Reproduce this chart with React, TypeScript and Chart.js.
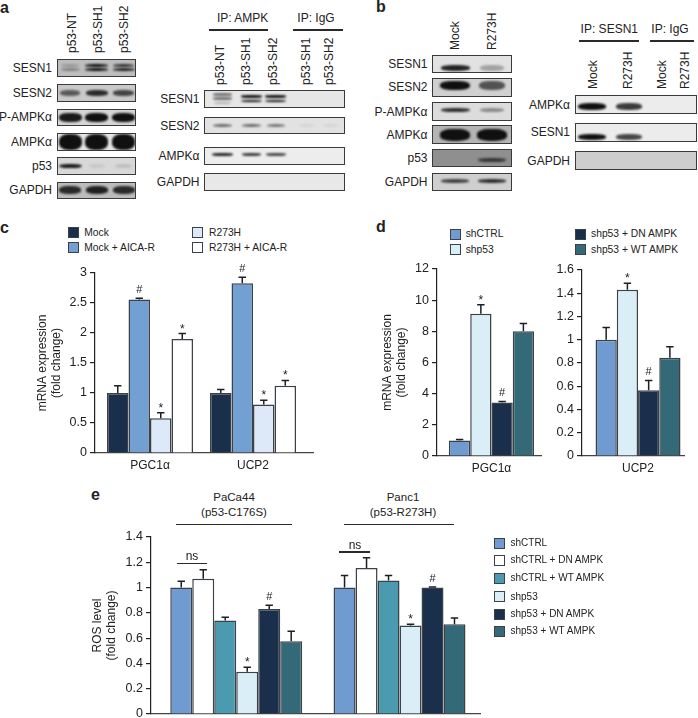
import React, { useEffect, useRef } from "react";
import { Chart, registerables } from "chart.js";

Chart.register(...registerables);

const FONT = '"Liberation Sans", Arial, sans-serif';
const INK = "#222";

// ---------- data: bar charts ----------
const NAVY = "#1a2f4c", BLUE = "#72a0d3", PALE_C = "#dde9f8", WHITE = "#ffffff";
const SKY = "#d9eef6", TEAL = "#346a78", MIDTEAL = "#4a9bb0", BLUE_D = "#6f9bd0";

const cCategories = ["PGC1α", "UCP2"];
const cSeriesNames = ["Mock", "Mock + AICA-R", "R273H", "R273H + AICA-R"];
const cMock = [1.0, 1.0];
const cMockTop = [1.12, 1.06];
const cMockAica = [2.56, 2.83];
const cMockAicaTop = [2.58, 2.93];
const cR273 = [0.58, 0.81];
const cR273Top = [0.67, 0.88];
const cR273Aica = [1.9, 1.12];
const cR273AicaTop = [1.99, 1.21];
const cMarks = [["", ""], ["#", "#"], ["*", "*"], ["*", "*"]];

const dSeriesNames = ["shCTRL", "shp53", "shp53 + DN AMPK", "shp53 + WT AMPK"];
const dPgc = [1.0, 9.13, 3.43, 8.0];
const dPgcTop = [1.06, 9.7, 3.5, 8.5];
const dUcp = [1.0, 1.43, 0.565, 0.845];
const dUcpTop = [1.105, 1.485, 0.65, 0.94];
const dMarks = [[""], ["*"], ["#"], [""]];

const eSeriesNames = ["shCTRL", "shCTRL + DN AMPK", "shCTRL + WT AMPK", "shp53", "shp53 + DN AMPK", "shp53 + WT AMPK"];
const eCategories = ["PaCa44", "Panc1"];
const eShCtrl = [1.0, 1.0];
const eShCtrlTop = [1.05, 1.095];
const eShCtrlDn = [1.07, 1.155];
const eShCtrlDnTop = [1.14, 1.235];
const eShCtrlWt = [0.74, 1.055];
const eShCtrlWtTop = [0.765, 1.095];
const eShp = [0.335, 0.7];
const eShpTop = [0.37, 0.71];
const eShpDn = [0.83, 1.0];
const eShpDnTop = [0.86, 1.005];
const eShpWt = [0.575, 0.71];
const eShpWtTop = [0.655, 0.76];
const eMarks = [["", ""], ["", ""], ["", ""], ["*", "*"], ["#", "#"], ["", ""]];

// ---------- data: blot band intensities per lane ----------
const aLeftNames = ["SESN1", "SESN2", "P-AMPKα", "AMPKα", "p53", "GAPDH"];
const aLeftBands = [
  [[0.22, 0.35], [1, 1], [0.8, 0.9]],
  [[0.6], [0.85], [0.72]],
  [[0.95], [1], [1]],
  [[1], [1], [1]],
  [[0.95], [0.08], [0.12]],
  [[0.85], [0.9], [0.85]],
];
const aRightNames = ["SESN1", "SESN2", "AMPKα", "GAPDH"];
const aRightBands = [
  [[0.55, 0.55, 0.25], [1, 1], [1, 1], [], []],
  [[0.55], [0.55], [0.5], [0.06], [0.06]],
  [[0.9], [0.8], [0.75], [], []],
  [[], [], [], [], []],
];
const bLeftNames = ["SESN1", "SESN2", "P-AMPKα", "AMPKα", "p53", "GAPDH"];
const bLeftBands = [
  [[0.9], [0.3]],
  [[1], [0.65]],
  [[0.85], [0.4]],
  [[1], [1]],
  [[], [0.7]],
  [[0.75], [0.85]],
];
const bRightNames = ["AMPKα", "SESN1", "GAPDH"];
const bRightBands = [
  [[1], [0.8], [], []],
  [[1], [0.75], [], []],
  [[], [], [], []],
];
const aLanes = ["p53-NT", "p53-SH1", "p53-SH2"];
const aIgLanes = ["p53-SH1", "p53-SH2"];
const bLanes = ["Mock", "R273H"];

// ---------- bar chart helpers ----------
const errorPlugin = {
  id: "errorMarks",
  afterDatasetsDraw(chart: any) {
    const { ctx, scales } = chart;
    chart.data.datasets.forEach((ds: any, i: number) => {
      chart.getDatasetMeta(i).data.forEach((el: any, j: number) => {
        const top = scales.y.getPixelForValue(ds.tops[j]);
        ctx.save();
        ctx.strokeStyle = "#1c1f24";
        ctx.lineWidth = 1.5;
        ctx.beginPath();
        ctx.moveTo(el.x, el.y);
        ctx.lineTo(el.x, top);
        ctx.moveTo(el.x - 3.7, top);
        ctx.lineTo(el.x + 3.7, top);
        ctx.stroke();
        const m = ds.marks[j];
        if (m) {
          ctx.fillStyle = INK;
          ctx.textAlign = "center";
          ctx.textBaseline = "alphabetic";
          ctx.font = `${m === "#" ? 11 : 12}px ${FONT}`;
          ctx.fillText(m, el.x, top - (m === "#" ? 5 : 1));
        }
        ctx.restore();
      });
    });
  },
};

type Spec = {
  left: number; top: number; width: number; height: number;
  axisW: number; axisH: number;
  yMax: number; yStep: number;
  xMin: number; xMax: number; catPct: number;
  labels: string[];
  title?: string[];
  series: { name: string; values: number[]; tops: number[]; marks: string[]; color: string }[];
};

function BarPanel({ spec }: { spec: Spec }) {
  const ref = useRef<HTMLCanvasElement>(null);
  useEffect(() => {
    const s = spec;
    const chart = new Chart(ref.current!, {
      type: "bar",
      data: {
        datasets: s.series.map((d) => ({
          label: d.name,
          data: d.values.map((v, i) => ({ x: i + 1, y: v })),
          tops: d.tops,
          marks: d.marks,
          backgroundColor: d.color,
          borderColor: "#3b4147",
          borderWidth: 1.5,
          barPercentage: 1,
          categoryPercentage: s.catPct,
        })) as any,
      },
      options: {
        animation: false,
        responsive: false,
        devicePixelRatio: 1,
        layout: { padding: { top: 20, left: 0, right: 0, bottom: 0 } },
        plugins: { legend: { display: false }, tooltip: { enabled: false } },
        scales: {
          x: {
            type: "linear",
            offset: false,
            min: s.xMin,
            max: s.xMax,
            grid: { display: false, drawTicks: false, tickLength: 0 },
            border: { color: "#444", width: 1.2 },
            afterBuildTicks: (a: any) => { a.ticks = s.labels.map((_, i) => ({ value: i + 1 })); },
            afterFit: (a: any) => { a.height = s.axisH; },
            ticks: {
              display: s.labels.some((l) => l !== ""),
              autoSkip: false,
              maxRotation: 0,
              padding: 5,
              color: INK,
              font: { family: FONT, size: 12 },
              callback: (v: any) => s.labels[Number(v) - 1] ?? "",
            },
          },
          y: {
            min: 0,
            max: s.yMax,
            afterFit: (a: any) => { a.width = s.axisW; },
            grid: { drawOnChartArea: false, drawTicks: true, tickLength: 5, color: "#222", lineWidth: 1.2 },
            border: { color: "#222", width: 1.2 },
            title: s.title
              ? { display: true, text: s.title, color: INK, padding: 0, font: { family: FONT, size: 12, lineHeight: 1.2 } }
              : { display: false },
            ticks: {
              stepSize: s.yStep,
              padding: 3,
              color: INK,
              font: { family: FONT, size: 12.5 },
              callback: (v: any) => String(+Number(v).toFixed(1)),
            },
          },
        },
      } as any,
      plugins: [errorPlugin as any],
    });
    return () => chart.destroy();
  }, [spec]);
  return (
    <canvas
      ref={ref}
      width={spec.width}
      height={spec.height}
      style={{ position: "absolute", left: spec.left, top: spec.top, width: spec.width, height: spec.height }}
    />
  );
}

const zip = (names: string[], vals: number[][], tops: number[][], marks: string[][], colors: string[]) =>
  names.map((name, i) => ({ name, values: vals[i], tops: tops[i], marks: marks[i], color: colors[i] }));
const cColors = [NAVY, BLUE, PALE_C, WHITE];
const dColors = [BLUE_D, SKY, NAVY, TEAL];
const eColors = [BLUE_D, WHITE, MIDTEAL, SKY, NAVY, TEAL];

const specC: Spec = {
  left: 35, top: 253, width: 279, height: 225, axisW: 60, axisH: 25, yMax: 3, yStep: 0.5,
  xMin: 0.466, xMax: 2.592, catPct: 0.835, labels: cCategories, title: ["mRNA expression", "(fold change)"],
  series: zip(cSeriesNames, [cMock, cMockAica, cR273, cR273Aica], [cMockTop, cMockAicaTop, cR273Top, cR273AicaTop], cMarks, cColors),
};
const pick = (a: number[], i: number) => [a[i]];
const specD1: Spec = {
  left: 380, top: 249, width: 162, height: 232, axisW: 57, axisH: 25, yMax: 12, yStep: 2,
  xMin: 0.481, xMax: 1.481, catPct: 0.81, labels: ["PGC1α"], title: ["mRNA expression", "(fold change)"],
  series: dSeriesNames.map((name, i) => ({ name, values: pick(dPgc, i), tops: pick(dPgcTop, i), marks: dMarks[i], color: dColors[i] })),
};
const specD2: Spec = {
  left: 542, top: 250, width: 143, height: 231, axisW: 40, axisH: 25, yMax: 1.6, yStep: 0.2,
  xMin: 0.456, xMax: 1.456, catPct: 0.825, labels: ["UCP2"],
  series: dSeriesNames.map((name, i) => ({ name, values: pick(dUcp, i), tops: pick(dUcpTop, i), marks: dMarks[i], color: dColors[i] })),
};
const specE: Spec = {
  left: 90, top: 517, width: 391, height: 209, axisW: 61, axisH: 12, yMax: 1.4, yStep: 0.2,
  xMin: 0.478, xMax: 2.499, catPct: 0.808, labels: ["", ""], title: ["ROS level", "(fold change)"],
  series: zip(eSeriesNames, [eShCtrl, eShCtrlDn, eShCtrlWt, eShp, eShpDn, eShpWt], [eShCtrlTop, eShCtrlDnTop, eShCtrlWtTop, eShpTop, eShpDnTop, eShpWtTop], eMarks, eColors),
};

// ---------- page-level helpers ----------
function T({ x, y, s, align = "left", size = 12, bold = false }: any) {
  const tx = align === "left" ? "0" : align === "center" ? "-50%" : "-100%";
  return (
    <div style={{ position: "absolute", left: x, top: y, transform: `translate(${tx},-50%)`, fontFamily: FONT, fontSize: size, fontWeight: bold ? 700 : 400, color: INK, whiteSpace: "nowrap", lineHeight: 1 }}>
      {s}
    </div>
  );
}
function V({ x, y, s }: any) {
  return (
    <div style={{ position: "absolute", left: x - 6, top: y, transform: "translateY(-100%) rotate(180deg)", writingMode: "vertical-rl", fontFamily: FONT, fontSize: 12, lineHeight: "12px", color: INK, whiteSpace: "nowrap" }}>
      {s}
    </div>
  );
}
function Rule({ x1, x2, y }: any) {
  return <div style={{ position: "absolute", left: x1, top: y - 0.75, width: x2 - x1, height: 1.5, background: "#2a2a2a" }} />;
}
function Blot({ x, y, w, h, bg, lanes, laneW, bands, thick, nudge }: any) {
  return (
    <div style={{ position: "absolute", left: x, top: y, width: w, height: h, boxSizing: "border-box", border: "1.5px solid #3a3a3a", background: bg, overflow: "hidden" }}>
      {bands.map((stack: number[], li: number) =>
        stack.map((v: number, bi: number) => {
          const bh = (thick * h) / Math.min(stack.length, 2);
          const gap = stack.length > 1 ? h * 0.24 : 0;
          const cy = h / 2 + (bi - (stack.length - 1) / 2) * gap;
          const width = laneW * (0.7 + 0.3 * v);
          return (
            <div key={`${li}-${bi}`} style={{ position: "absolute", left: lanes[li] - x - width / 2, top: cy - bh / 2 - 1 + nudge, width, height: bh, background: "#101010", opacity: v, borderRadius: "40%", filter: "blur(1px)" }} />
          );
        })
      )}
    </div>
  );
}
function Swatch({ x, y, color, size = 11 }: any) {
  return <div style={{ position: "absolute", left: x, top: y - size / 2, width: size, height: size, boxSizing: "border-box", border: "1.5px solid #3b4147", background: color }} />;
}

// blot layout: top, height, background, band thickness, band nudge
const aLeftRows = [[58.7, 18, "#bdbdbd", 0.36, 0], [84, 17.5, "#c9c9c9", 0.32, 0], [108.7, 17.5, "#d6d6d6", 0.5, 0], [133, 18, "#e6e6e6", 0.9, 0], [157.3, 17.5, "#d8d8d8", 0.28, 0], [181.7, 17, "#bcbcbc", 0.45, 0]];
const aRightRows = [[90, 17.5, "#e6e6e6", 0.3, 0], [117.3, 17, "#e2e2e2", 0.2, 0], [146.7, 18, "#ededed", 0.16, -1], [172.7, 18, "#e8e8e8", 0.1, 0]];
const bLeftRows = [[55, 18, "#e2e2e2", 0.3, 4], [78, 18.5, "#d0d0d0", 0.5, -1.5], [102.3, 18.5, "#dcdcdc", 0.24, -1.5], [125.3, 18.5, "#b4b4b4", 0.65, 0], [149, 18, "#8f8f8f", 0.24, 2], [172.7, 18, "#cfcfcf", 0.22, -0.5]];
const bRightRows = [[95, 19, "#ececec", 0.36, 2], [122.7, 19, "#ececec", 0.32, 4.5], [151, 19, "#cdcdcd", 0.1, 0]];

function BlotGroup({ names, bands, rows, x, w, lanes, laneW, labelX }: any) {
  return (
    <>
      {names.map((n: string, i: number) => (
        <React.Fragment key={n + i}>
          <T x={labelX} y={rows[i][0] + rows[i][1] / 2} s={n} align="right" size={12} />
          <Blot x={x} y={rows[i][0]} w={w} h={rows[i][1]} bg={rows[i][2]} thick={rows[i][3]} nudge={rows[i][4]} lanes={lanes} laneW={laneW} bands={bands[i]} />
        </React.Fragment>
      ))}
    </>
  );
}

export default function App() {
  return (
    <div style={{ position: "fixed", left: 0, top: 0, width: 698, height: 718, overflow: "hidden", background: "#fff" }}>
      <T x={0} y={8} s="a" size={16} bold />
      <T x={376} y={7} s="b" size={16} bold />
      <T x={0} y={228} s="c" size={16} bold />
      <T x={376} y={227} s="d" size={16} bold />
      <T x={91} y={495} s="e" size={16} bold />

      {/* a */}
      <BlotGroup names={aLeftNames} bands={aLeftBands} rows={aLeftRows} x={56.7} w={79} lanes={[69.3, 96, 122.7]} laneW={23} labelX={52} />
      {aLanes.map((l, i) => <V key={l} x={[71.7, 97.7, 124][i]} y={53} s={l} />)}
      <T x={242.7} y={18} s="IP: AMPK" align="center" size={12} />
      <Rule x1={209} x2={268} y={30} />
      <T x={316} y={18} s="IP: IgG" align="center" size={12} />
      <Rule x1={292.7} x2={343} y={30} />
      {aLanes.map((l, i) => <V key={l} x={[220, 246, 273.3][i]} y={85} s={l} />)}
      {aIgLanes.map((l, i) => <V key={l} x={[306, 329.3][i]} y={85} s={l} />)}
      <BlotGroup names={aRightNames} bands={aRightBands} rows={aRightRows} x={204.3} w={141} lanes={[221.5, 250.5, 275, 306, 330]} laneW={21} labelX={199.5} />

      {/* b */}
      <BlotGroup names={bLeftNames} bands={bLeftBands} rows={bLeftRows} x={432.3} w={80} lanes={[454.3, 491]} laneW={30} labelX={427.5} />
      {bLanes.map((l, i) => <V key={l} x={[455, 491.7][i]} y={50} s={l} />)}
      <T x={609.3} y={29.3} s="IP: SESN1" align="center" size={12} />
      <Rule x1={579} x2={639} y={41} />
      <T x={670} y={29.3} s="IP: IgG" align="center" size={12} />
      <Rule x1={650} x2={694} y={41} />
      {bLanes.map((l, i) => <V key={l} x={[593, 628][i]} y={89} s={l} />)}
      {bLanes.map((l, i) => <V key={l + "g"} x={[661.7, 685][i]} y={89} s={l} />)}
      <BlotGroup names={bRightNames} bands={bRightBands} rows={bRightRows} x={575} w={121.7} lanes={[591, 628, 661, 685]} laneW={28} labelX={570} />

      {/* c */}
      {cSeriesNames.map((n, i) => (
        <React.Fragment key={n}>
          <Swatch x={i < 2 ? 67.5 : 191.7} y={i % 2 === 0 ? 232 : 247.5} color={cColors[i]} />
          <T x={i < 2 ? 84.3 : 209} y={i % 2 === 0 ? 232.5 : 248} s={n} size={10.3} />
        </React.Fragment>
      ))}
      <BarPanel spec={specC} />

      {/* d */}
      {dSeriesNames.map((n, i) => (
        <React.Fragment key={n}>
          <Swatch x={i < 2 ? 449.7 : 575} y={i % 2 === 0 ? 234 : 249.7} color={dColors[i]} />
          <T x={i < 2 ? 465.7 : 591} y={i % 2 === 0 ? 234 : 250} s={n} size={10.3} />
        </React.Fragment>
      ))}
      <BarPanel spec={specD1} />
      <BarPanel spec={specD2} />

      {/* e */}
      <T x={234} y={498} s={eCategories[0]} align="center" size={11.5} />
      <T x={234} y={513} s="(p53-C176S)" align="center" size={11.5} />
      <Rule x1={176} x2={292} y={524.7} />
      <T x={403} y={498} s={eCategories[1]} align="center" size={11.5} />
      <T x={403} y={513} s="(p53-R273H)" align="center" size={11.5} />
      <Rule x1={343.6} x2={454} y={524.7} />
      <BarPanel spec={specE} />
      <T x={192} y={556} s="ns" align="center" size={12} />
      <Rule x1={177} x2={207} y={563.5} />
      <T x={355} y={545} s="ns" align="center" size={12} />
      <Rule x1={339} x2={370} y={552} />
      {eSeriesNames.map((n, i) => (
        <React.Fragment key={n}>
          <Swatch x={494.4} y={[543, 560.3, 578.3, 596.7, 614, 631.3][i]} color={eColors[i]} />
          <T x={510.5} y={[543, 560.3, 578.3, 596.7, 614, 631.3][i]} s={n} size={10} />
        </React.Fragment>
      ))}
    </div>
  );
}
